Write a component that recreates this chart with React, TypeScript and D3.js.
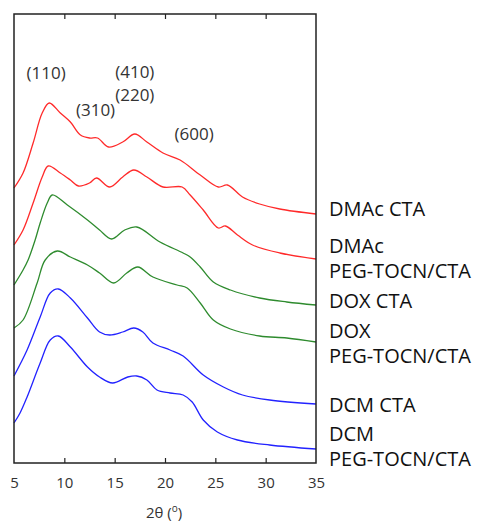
import React, { useEffect, useRef } from "react";
import * as d3 from "d3";

// 2theta (deg) and intensity (a.u., offset stacked)
const dmacCta: [number, number][] = [
  [5.0, 550], [5.9, 580], [6.9, 640], [7.8, 700], [8.5, 720], [9.6, 700],
  [10.6, 682], [11.6, 656], [12.5, 650], [13.3, 650], [14.4, 632], [15.8, 642],
  [17.0, 658], [18.2, 642], [19.8, 620], [21.5, 606], [23.5, 576], [25.3, 552],
  [26.2, 556], [27.7, 532], [29.4, 518], [31.4, 508], [35.0, 498],
];
const dmacPeg: [number, number][] = [
  [5.0, 436], [5.9, 466], [6.9, 520], [7.8, 572], [8.4, 594], [9.6, 580],
  [10.6, 566], [11.4, 554], [12.5, 560], [13.2, 570], [14.5, 552], [15.8, 572],
  [16.9, 586], [18.2, 572], [19.8, 552], [21.7, 552], [22.5, 536], [23.8, 506],
  [25.3, 470], [26.0, 474], [27.2, 456], [28.7, 436], [31.4, 420], [35.0, 408],
];
const doxCta: [number, number][] = [
  [5.0, 356], [5.9, 386], [6.4, 406], [7.1, 446], [7.6, 480], [8.3, 520],
  [8.8, 536], [10.3, 516], [12.3, 486], [13.5, 466], [14.7, 448], [16.0, 466],
  [17.2, 472], [19.5, 442], [21.8, 420], [22.5, 412], [23.5, 392], [24.8, 362],
  [26.5, 346], [29.4, 330], [32.1, 322], [35.0, 316],
];
const doxPeg: [number, number][] = [
  [5.0, 270], [5.9, 286], [7.3, 360], [8.1, 406], [9.3, 424], [10.6, 412],
  [12.3, 396], [13.5, 380], [14.9, 360], [16.2, 380], [17.3, 392], [18.8, 372],
  [21.2, 356], [22.2, 350], [23.5, 320], [24.8, 286], [26.5, 268], [29.4, 254],
  [32.1, 250], [35.0, 242],
];
const dcmCta: [number, number][] = [
  [5.0, 174], [6.3, 226], [7.6, 292], [8.6, 340], [9.4, 348], [10.6, 330],
  [12.3, 290], [13.5, 262], [14.5, 256], [15.8, 262], [16.9, 270], [17.8, 262],
  [18.8, 240], [20.5, 226], [21.8, 214], [23.8, 176], [25.8, 152], [27.7, 136],
  [30.4, 126], [35.0, 118],
];
const dcmPeg: [number, number][] = [
  [5.0, 80], [5.6, 100], [6.3, 132], [7.6, 200], [8.6, 246], [9.4, 254],
  [10.6, 232], [12.3, 192], [13.5, 172], [14.8, 160], [16.3, 172], [17.2, 174],
  [18.2, 166], [19.2, 146], [20.5, 140], [21.8, 136], [22.7, 122], [23.8, 86],
  [25.2, 62], [27.2, 46], [30.4, 36], [35.0, 28],
];

const seriesData = [dmacCta, dmacPeg, doxCta, doxPeg, dcmCta, dcmPeg];
const seriesColors = ["#ff2a2a", "#ff2a2a", "#2e8b2e", "#2e8b2e", "#2222ff", "#2222ff"];
const seriesLabels = [
  ["DMAc CTA"],
  ["DMAc", "PEG-TOCN/CTA"],
  ["DOX CTA"],
  ["DOX", "PEG-TOCN/CTA"],
  ["DCM CTA"],
  ["DCM", "PEG-TOCN/CTA"],
];
// baseline of first line for each label, in a.u.
const labelLevels = [494, 420, 310, 250, 102, 44];

const peakLabels = ["(110)", "(310)", "(410)", "(220)", "(600)"];
const peakPos: [number, number][] = [
  [8.2, 768], [13.1, 694], [17.0, 770], [17.0, 724], [22.9, 646],
];

const xTicks = [5, 10, 15, 20, 25, 30, 35];

const width = 479;
const height = 521;
const margin = { top: 14, right: 163, bottom: 58, left: 14 };

export default function App() {
  const ref = useRef<SVGSVGElement>(null);

  useEffect(() => {
    const svg = d3.select(ref.current);
    svg.selectAll("*").remove();

    const x = d3.scaleLinear().domain([5, 35]).range([margin.left, width - margin.right]);
    const y = d3.scaleLinear().domain([0, 898]).range([height - margin.bottom, margin.top]);

    const font = "'Open Sans', 'Noto Sans', sans-serif";

    const line = d3
      .line<[number, number]>()
      .x((d) => x(d[0]))
      .y((d) => y(d[1]))
      .curve(d3.curveCatmullRom.alpha(0.5));

    svg
      .selectAll(".curve")
      .data(seriesData)
      .enter()
      .append("path")
      .attr("class", "curve")
      .attr("d", (d) => line(d))
      .attr("fill", "none")
      .attr("stroke", (_, i) => seriesColors[i])
      .attr("stroke-width", 1.3);

    // frame
    svg
      .append("rect")
      .attr("x", x(5))
      .attr("y", y(898))
      .attr("width", x(35) - x(5))
      .attr("height", y(0) - y(898))
      .attr("fill", "none")
      .attr("stroke", "#222")
      .attr("stroke-width", 1.5);

    // bottom axis, inward ticks
    const bottom = svg.append("g").attr("transform", `translate(0,${y(0)})`);
    bottom
      .call(d3.axisBottom(x).tickValues(xTicks).tickSize(-5).tickPadding(14))
      .call((g) => g.select(".domain").remove())
      .call((g) => g.selectAll(".tick line").attr("stroke", "#222").attr("stroke-width", 1.2))
      .call((g) =>
        g.selectAll("text").attr("font-family", font).attr("font-size", 15).attr("fill", "#333")
      );
    bottom.selectAll(".tick").filter((d) => d === 5 || d === 35).select("line").remove();

    // top ticks
    const top = svg.append("g").attr("transform", `translate(0,${y(898)})`);
    top
      .call(d3.axisTop(x).tickValues(xTicks.slice(1, -1)).tickSize(-5).tickFormat(() => ""))
      .call((g) => g.select(".domain").remove())
      .call((g) => g.selectAll(".tick line").attr("stroke", "#222").attr("stroke-width", 1.2));

    // axis title
    const title = svg
      .append("text")
      .attr("x", x(19.9))
      .attr("y", height - 3)
      .attr("text-anchor", "middle")
      .attr("font-family", font)
      .attr("font-size", 15)
      .attr("fill", "#333");
    title.append("tspan").text("2θ (");
    title.append("tspan").attr("font-size", 10).attr("dy", -6).text("o");
    title.append("tspan").attr("dy", 6).text(")");

    // peak annotations
    svg
      .selectAll(".peak")
      .data(peakLabels)
      .enter()
      .append("text")
      .attr("class", "peak")
      .attr("x", (_, i) => x(peakPos[i][0]))
      .attr("y", (_, i) => y(peakPos[i][1]))
      .attr("text-anchor", "middle")
      .attr("font-family", font)
      .attr("font-size", 17)
      .attr("fill", "#333")
      .text((d) => d);

    // series labels on the right
    const labels = svg
      .selectAll(".lbl")
      .data(seriesLabels)
      .enter()
      .append("text")
      .attr("class", "lbl")
      .attr("x", x(35) + 13)
      .attr("y", (_, i) => y(labelLevels[i]))
      .attr("font-family", font)
      .attr("font-size", 20)
      .attr("fill", "#111");
    labels
      .selectAll("tspan")
      .data((d) => d)
      .enter()
      .append("tspan")
      .attr("x", x(35) + 13)
      .attr("dy", (_, j) => (j === 0 ? 0 : 25))
      .text((d) => d);
  }, []);

  return (
    <svg
      ref={ref}
      width={width}
      height={height}
      style={{ position: "absolute", left: 0, top: 0, background: "#fff" }}
    />
  );
}
